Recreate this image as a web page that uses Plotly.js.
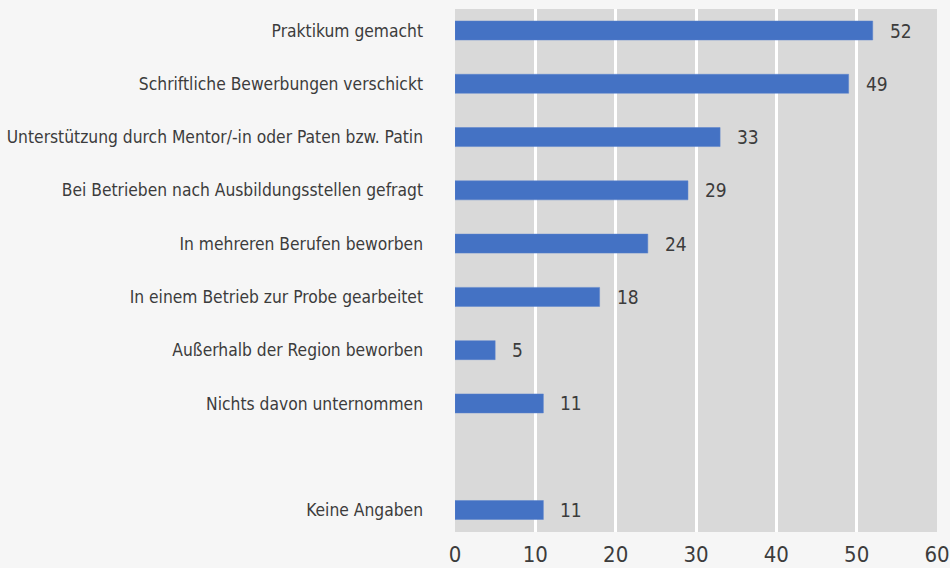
<!DOCTYPE html>
<html>
<head>
<meta charset="utf-8">
<script src="https://cdn.plot.ly/plotly-3.0.1.min.js"></script>
<style>html,body{margin:0;padding:0;background:#f6f6f6;}#chart{width:950px;height:568px;}</style>
</head>
<body>
<div id="chart"></div>
<script>
var categories = [
  "Praktikum gemacht",
  "Schriftliche Bewerbungen verschickt",
  "Unterstützung durch Mentor/-in oder Paten bzw. Patin",
  "Bei Betrieben nach Ausbildungsstellen gefragt",
  "In mehreren Berufen beworben",
  "In einem Betrieb zur Probe gearbeitet",
  "Außerhalb der Region beworben",
  "Nichts davon unternommen",
  " ",
  "Keine Angaben"
];
var values = [52, 49, 33, 29, 24, 18, 5, 11, null, 11];
var xTicks = [0, 10, 20, 30, 40, 50, 60];

var textColor = "#3c3c3c";
var font = "'DejaVu Sans Condensed', sans-serif";

var trace = {
  type: "bar",
  orientation: "h",
  y: categories,
  x: values,
  width: 0.357,
  marker: {color: "#4472c4", line: {color: "#5a83cc", width: 0.5}},
  hoverinfo: "none"
};

var annotations = [];
for (var i = 0; i < categories.length; i++) {
  if (values[i] === null) continue;
  annotations.push({
    x: values[i], y: categories[i], xref: "x", yref: "y",
    text: String(values[i]), showarrow: false,
    xanchor: "left", yanchor: "middle", xshift: 15,
    font: {family: font, size: 19, color: textColor}
  });
}

var layout = {
  width: 950, height: 568,
  margin: {l: 455, r: 13, t: 9, b: 36, pad: 0},
  paper_bgcolor: "#f6f6f6",
  plot_bgcolor: "#d9d9d9",
  showlegend: false,
  bargap: 0,
  xaxis: {
    range: [0, 60], tickvals: xTicks, ticktext: xTicks.map(String),
    showgrid: true, gridcolor: "#ffffff", gridwidth: 3,
    zeroline: false, showline: false, ticks: "",
    ticklabeloverflow: "allow",
    ticklabelstandoff: 7,
    tickfont: {family: font, size: 22, color: textColor},
    fixedrange: true
  },
  yaxis: {
    type: "category",
    categoryorder: "array", categoryarray: categories,
    range: [9.413, -0.4035],
    showgrid: false, zeroline: false, showline: false, ticks: "",
    ticklabelstandoff: 31,
    tickfont: {family: font, size: 17.3, color: textColor},
    fixedrange: true
  },
  annotations: annotations
};

Plotly.newPlot("chart", [trace], layout, {displayModeBar: false, staticPlot: true});
</script>
</body>
</html>
